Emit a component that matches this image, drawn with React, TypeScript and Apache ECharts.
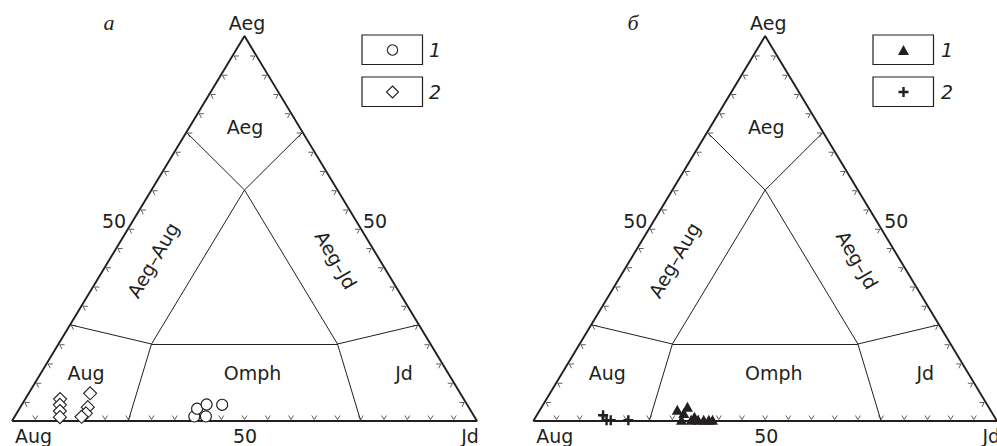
import React, { useEffect, useRef } from "react";
import * as echarts from "echarts";

// Compositions are stored as [Jd, Aeg] in mol %, Aug = 100 - Jd - Aeg.
const TRIANGLE_VERTICES: [number, number][] = [
  [0, 0],
  [100, 0],
  [0, 100],
  [0, 0],
];

// Field boundaries of the Aeg–Jd–Aug classification.
const FIELD_BOUNDARIES: [number, number][][] = [
  [[25, 0], [20, 20]],
  [[75, 0], [60, 20]],
  [[20, 20], [60, 20]],
  [[0, 25], [20, 20]],
  [[75, 25], [60, 20]],
  [[20, 20], [20, 60]],
  [[60, 20], [20, 60]],
  [[20, 60], [0, 75]],
  [[20, 60], [25, 75]],
];

const TICK_VALUES = [5, 10, 15, 20, 25, 30, 35, 40, 45, 50, 55, 60, 65, 70, 75, 80, 85, 90, 95];

const VERTEX_LABELS = { top: "Aeg", left: "Aug", right: "Jd" };
const MID_TICK_LABEL = "50";
const FIELD_LABELS = ["Aeg", "Aeg–Aug", "Aeg–Jd", "Aug", "Omph", "Jd"];
const PANEL_LETTERS = ["а", "б"];
const LEGEND_NUMBERS = ["1", "2"];

// Panel а
const panelA_group1: [number, number][] = [
  [38.6, 1.2],
  [41.1, 1.2],
  [38.2, 3.2],
  [39.7, 4.3],
  [43.1, 4.2],
];
const panelA_group2: [number, number][] = [
  [7.5, 5.7],
  [8.2, 4.2],
  [9.0, 2.6],
  [9.8, 1.0],
  [13.2, 7.2],
  [14.5, 3.6],
  [14.9, 2.0],
  [14.4, 1.1],
];

// Panel б
const panelB_group1: [number, number][] = [
  [29.6, 2.9],
  [31.4, 3.7],
  [31.4, 2.1],
  [34.2, 1.1],
  [31.8, 0.3],
  [33.9, 0.3],
  [35.4, 0.3],
  [36.6, 0.3],
  [37.7, 0.3],
  [38.5, 0.3],
];
const panelB_group2: [number, number][] = [
  [14.3, 1.5],
  [15.7, 0.2],
  [16.6, 0.2],
  [20.4, 0.2],
];

const INK = "#231f20";
const FONT = "DejaVu Sans";
const FONT_SIZE = 19;
const CROSS_PATH = "path://M3.8,0H6.2V3.8H10V6.2H6.2V10H3.8V6.2H0V3.8H3.8Z";

// ternary [Jd, Aeg] -> plane coordinates of the triangular diagram
const toXY = ([jd, aeg]: [number, number]) => [jd + aeg / 2, aeg];

type Panel = {
  left: number;
  letterX: number;
  legendX: number;
  legendLabelX: number;
  groups: {
    data: [number, number][];
    symbol: string;
    size: number | number[];
    fill: string;
    border: number;
  }[];
  legendMarkers: ("circle" | "diamond" | "triangle" | "cross")[];
};

const PANELS: Panel[] = [
  {
    left: 12,
    letterX: 109,
    legendX: 362,
    legendLabelX: 435,
    groups: [
      { data: panelA_group1, symbol: "circle", size: 11, fill: "#fff", border: 1.1 },
      { data: panelA_group2, symbol: "diamond", size: 13, fill: "#fff", border: 1.1 },
    ],
    legendMarkers: ["circle", "diamond"],
  },
  {
    left: 533.3,
    letterX: 633,
    legendX: 873,
    legendLabelX: 947,
    groups: [
      { data: panelB_group1, symbol: "triangle", size: [11, 10], fill: INK, border: 0 },
      { data: panelB_group2, symbol: CROSS_PATH, size: 10, fill: INK, border: 0 },
    ],
    legendMarkers: ["triangle", "cross"],
  },
];

const GRID_TOP = 36;
const GRID_W = 465;
const GRID_H = 385;

function legendMarker(kind: string, cx: number, cy: number): any {
  if (kind === "circle") {
    return { type: "circle", shape: { cx, cy, r: 5.2 }, style: { fill: "#fff", stroke: INK, lineWidth: 1.1 } };
  }
  if (kind === "diamond") {
    return {
      type: "polygon",
      shape: { points: [[cx, cy - 6], [cx + 6, cy], [cx, cy + 6], [cx - 6, cy]] },
      style: { fill: "#fff", stroke: INK, lineWidth: 1.1 },
    };
  }
  if (kind === "triangle") {
    return {
      type: "polygon",
      shape: { points: [[cx, cy - 5], [cx + 5.5, cy + 5], [cx - 5.5, cy + 5]] },
      style: { fill: INK },
    };
  }
  return {
    type: "polygon",
    shape: {
      points: [
        [cx - 1.2, cy - 5], [cx + 1.2, cy - 5], [cx + 1.2, cy - 1.2], [cx + 5, cy - 1.2],
        [cx + 5, cy + 1.2], [cx + 1.2, cy + 1.2], [cx + 1.2, cy + 5], [cx - 1.2, cy + 5],
        [cx - 1.2, cy + 1.2], [cx - 5, cy + 1.2], [cx - 5, cy - 1.2], [cx - 1.2, cy - 1.2],
      ],
    },
    style: { fill: INK },
  };
}

function text(str: string, x: number, y: number, opts: any = {}): any {
  return {
    type: "text",
    x,
    y,
    rotation: opts.rotation || 0,
    style: {
      text: str,
      fill: INK,
      fontSize: opts.fontSize || FONT_SIZE,
      fontFamily: opts.fontFamily || FONT,
      fontStyle: opts.fontStyle || "normal",
      align: opts.align || "center",
      verticalAlign: "middle",
    },
  };
}

function buildOption() {
  const grid: any[] = [];
  const xAxis: any[] = [];
  const yAxis: any[] = [];
  const series: any[] = [];
  const graphic: any[] = [];

  const tickData: number[][] = [];
  TICK_VALUES.forEach((t) => {
    tickData.push([...toXY([t, 0]), 0]); // Aug–Jd edge
    tickData.push([...toXY([0, t]), 1]); // Aug–Aeg edge
    tickData.push([...toXY([100 - t, t]), 2]); // Jd–Aeg edge
  });

  PANELS.forEach((p, i) => {
    grid.push({ left: p.left, top: GRID_TOP, width: GRID_W, height: GRID_H });
    xAxis.push({ gridIndex: i, type: "value", min: 0, max: 100, show: false });
    yAxis.push({ gridIndex: i, type: "value", min: 0, max: 100, show: false });

    series.push({
      type: "line",
      xAxisIndex: i,
      yAxisIndex: i,
      data: TRIANGLE_VERTICES.map(toXY),
      symbol: "none",
      clip: false,
      lineStyle: { color: INK, width: 1.9 },
      z: 3,
    });

    series.push({
      type: "lines",
      coordinateSystem: "cartesian2d",
      xAxisIndex: i,
      yAxisIndex: i,
      data: FIELD_BOUNDARIES.map((seg) => ({ coords: seg.map(toXY) })),
      lineStyle: { color: INK, width: 1, opacity: 1 },
      clip: false,
      z: 2,
    });

    series.push({
      type: "custom",
      xAxisIndex: i,
      yAxisIndex: i,
      data: tickData,
      clip: false,
      z: 2,
      renderItem: (_params: any, api: any) => {
        const a = api.coord([0, 0]);
        const b = api.coord([100, 0]);
        const c = api.coord([50, 100]);
        const g = [(a[0] + b[0] + c[0]) / 3, (a[1] + b[1] + c[1]) / 3];
        const edge = api.value(2);
        const [s, e] = edge === 0 ? [a, b] : edge === 1 ? [a, c] : [b, c];
        const len = Math.hypot(e[0] - s[0], e[1] - s[1]);
        const d = [(e[0] - s[0]) / len, (e[1] - s[1]) / len];
        const pt = api.coord([api.value(0), api.value(1)]);
        let n = [-d[1], d[0]];
        if (n[0] * (g[0] - pt[0]) + n[1] * (g[1] - pt[1]) < 0) n = [-n[0], -n[1]];
        const tip = [pt[0] + n[0] * 1.5, pt[1] + n[1] * 1.5];
        const arm1 = [pt[0] + n[0] * 5.5 + d[0] * 2.5, pt[1] + n[1] * 5.5 + d[1] * 2.5];
        const arm2 = [pt[0] + n[0] * 5.5 - d[0] * 2.5, pt[1] + n[1] * 5.5 - d[1] * 2.5];
        return {
          type: "polyline",
          shape: { points: [arm1, tip, arm2] },
          style: { stroke: "#333", lineWidth: 0.8, fill: "none" },
        };
      },
    });

    p.groups.forEach((grp, k) => {
      series.push({
        type: "scatter",
        xAxisIndex: i,
        yAxisIndex: i,
        data: grp.data.map(toXY),
        symbol: grp.symbol,
        symbolSize: grp.size,
        clip: false,
        itemStyle: { color: grp.fill, borderColor: INK, borderWidth: grp.border, opacity: 1 },
        z: 5 + k,
      });
    });

    const dx = p.left - 12;
    graphic.push(text(VERTEX_LABELS.top, 247 + dx, 23));
    graphic.push(text(VERTEX_LABELS.left, 33.5 + dx, 436));
    graphic.push(text(MID_TICK_LABEL, 245 + dx, 436));
    graphic.push(text(VERTEX_LABELS.right, 470 + dx, 436));
    graphic.push(text(MID_TICK_LABEL, 114 + dx, 221));
    graphic.push(text(MID_TICK_LABEL, 375 + dx, 221));
    graphic.push(
      text(PANEL_LETTERS[i], p.letterX, 22, {
        fontFamily: "Liberation Serif",
        fontStyle: "italic",
        fontSize: 22,
      })
    );

    graphic.push(text(FIELD_LABELS[0], 245 + dx, 127));
    graphic.push(text(FIELD_LABELS[1], 153 + dx, 260, { rotation: Math.PI / 3 }));
    graphic.push(text(FIELD_LABELS[2], 336 + dx, 260, { rotation: -Math.PI / 3 }));
    graphic.push(text(FIELD_LABELS[3], 86 + dx, 373));
    graphic.push(text(FIELD_LABELS[4], 252.5 + dx, 373));
    graphic.push(text(FIELD_LABELS[5], 404 + dx, 373));

    [50, 92].forEach((cy, k) => {
      graphic.push({
        type: "rect",
        shape: { x: p.legendX, y: cy - 15, width: 60.5, height: 29.5 },
        style: { fill: "#fff", stroke: INK, lineWidth: 1.2 },
      });
      graphic.push(legendMarker(p.legendMarkers[k], p.legendX + 30.5, cy));
      graphic.push(text(LEGEND_NUMBERS[k], p.legendLabelX, cy, { fontStyle: "italic" }));
    });
  });

  return {
    animation: false,
    backgroundColor: "#ffffff",
    grid,
    xAxis,
    yAxis,
    series,
    graphic,
  };
}

export default function App() {
  const ref = useRef<HTMLDivElement>(null);
  useEffect(() => {
    if (!ref.current) return;
    const chart = echarts.init(ref.current, undefined, { renderer: "svg" });
    chart.setOption(buildOption());
    return () => chart.dispose();
  }, []);
  return (
    <div
      ref={ref}
      style={{ position: "absolute", left: 0, top: 0, width: 997, height: 446, background: "#fff" }}
    />
  );
}
